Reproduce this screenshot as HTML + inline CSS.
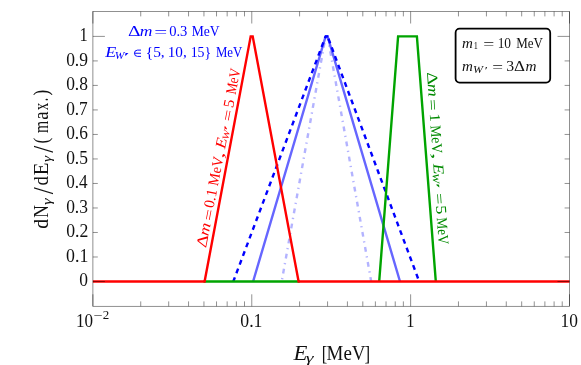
<!DOCTYPE html>
<html>
<head>
<meta charset="utf-8">
<title>plot</title>
<style>
html,body{margin:0;padding:0;background:#fff;}
body{width:581px;height:365px;overflow:hidden;}
svg{display:block;will-change:transform;}
text{font-family:"Liberation Serif",serif;font-kerning:none;}
.it{font-style:italic;}
</style>
</head>
<body>
<svg width="581" height="365" viewBox="0 0 581 365">
<rect width="581" height="365" fill="#fff"/>

<g fill="none" stroke-width="2.4" stroke-linejoin="miter" stroke-linecap="butt">
<path stroke="#b3b3ff" stroke-dasharray="4.8 4.6 1.3 4.6" stroke-dashoffset="7.2" d="M281.7,281.5 L325.6,36.4"/>
<path stroke="#b3b3ff" stroke-dasharray="4.8 4.6 1.3 4.6" stroke-dashoffset="0.3" d="M327.6,36.4 L371.2,281.5"/>
<path stroke="#b3b3ff" d="M324.9,36.4 H328.3"/>
<polyline stroke="#6666ff" points="253.1,281.5 325.6,36.4 327.6,36.4 400,281.5"/>
<path stroke="#0000ff" stroke-dasharray="4.9 4.4" stroke-dashoffset="0.5" d="M233.3,281.5 L325.6,36.4"/>
<path stroke="#0000ff" stroke-dasharray="4.9 4.4" stroke-dashoffset="6.84" d="M327.6,36.4 L419.2,281.5"/>
<path stroke="#0000ff" d="M324.9,36.4 H328.3"/>
<path stroke="#00a400" d="M203.5,281.5 H299.7 M379.2,281.5 L398.1,36.4 H416.9 L435.8,281.5"/>
<polyline stroke="#ff0000" points="92.9,281.5 204.6,281.5 250.7,36.4 252.7,36.4 298.6,281.5 569.5,281.5"/>
</g>

<g fill="none" stroke="#000" stroke-width="0.7" stroke-opacity="0.62">
<rect x="92.9" y="11.5" width="476.6" height="294.8"/>
<line x1="92.9" y1="306.3" x2="92.9" y2="294.3"/>
<line x1="92.9" y1="11.5" x2="92.9" y2="23.5"/>
<line x1="140.72" y1="306.3" x2="140.72" y2="301.4"/>
<line x1="140.72" y1="11.5" x2="140.72" y2="16.4"/>
<line x1="168.7" y1="306.3" x2="168.7" y2="301.4"/>
<line x1="168.7" y1="11.5" x2="168.7" y2="16.4"/>
<line x1="188.55" y1="306.3" x2="188.55" y2="301.4"/>
<line x1="188.55" y1="11.5" x2="188.55" y2="16.4"/>
<line x1="203.94" y1="306.3" x2="203.94" y2="301.4"/>
<line x1="203.94" y1="11.5" x2="203.94" y2="16.4"/>
<line x1="216.52" y1="306.3" x2="216.52" y2="301.4"/>
<line x1="216.52" y1="11.5" x2="216.52" y2="16.4"/>
<line x1="227.16" y1="306.3" x2="227.16" y2="301.4"/>
<line x1="227.16" y1="11.5" x2="227.16" y2="16.4"/>
<line x1="236.37" y1="306.3" x2="236.37" y2="301.4"/>
<line x1="236.37" y1="11.5" x2="236.37" y2="16.4"/>
<line x1="244.5" y1="306.3" x2="244.5" y2="301.4"/>
<line x1="244.5" y1="11.5" x2="244.5" y2="16.4"/>
<line x1="251.77" y1="306.3" x2="251.77" y2="294.3"/>
<line x1="251.77" y1="11.5" x2="251.77" y2="23.5"/>
<line x1="299.59" y1="306.3" x2="299.59" y2="301.4"/>
<line x1="299.59" y1="11.5" x2="299.59" y2="16.4"/>
<line x1="327.57" y1="306.3" x2="327.57" y2="301.4"/>
<line x1="327.57" y1="11.5" x2="327.57" y2="16.4"/>
<line x1="347.41" y1="306.3" x2="347.41" y2="301.4"/>
<line x1="347.41" y1="11.5" x2="347.41" y2="16.4"/>
<line x1="362.81" y1="306.3" x2="362.81" y2="301.4"/>
<line x1="362.81" y1="11.5" x2="362.81" y2="16.4"/>
<line x1="375.39" y1="306.3" x2="375.39" y2="301.4"/>
<line x1="375.39" y1="11.5" x2="375.39" y2="16.4"/>
<line x1="386.02" y1="306.3" x2="386.02" y2="301.4"/>
<line x1="386.02" y1="11.5" x2="386.02" y2="16.4"/>
<line x1="395.24" y1="306.3" x2="395.24" y2="301.4"/>
<line x1="395.24" y1="11.5" x2="395.24" y2="16.4"/>
<line x1="403.36" y1="306.3" x2="403.36" y2="301.4"/>
<line x1="403.36" y1="11.5" x2="403.36" y2="16.4"/>
<line x1="410.63" y1="306.3" x2="410.63" y2="294.3"/>
<line x1="410.63" y1="11.5" x2="410.63" y2="23.5"/>
<line x1="458.46" y1="306.3" x2="458.46" y2="301.4"/>
<line x1="458.46" y1="11.5" x2="458.46" y2="16.4"/>
<line x1="486.43" y1="306.3" x2="486.43" y2="301.4"/>
<line x1="486.43" y1="11.5" x2="486.43" y2="16.4"/>
<line x1="506.28" y1="306.3" x2="506.28" y2="301.4"/>
<line x1="506.28" y1="11.5" x2="506.28" y2="16.4"/>
<line x1="521.68" y1="306.3" x2="521.68" y2="301.4"/>
<line x1="521.68" y1="11.5" x2="521.68" y2="16.4"/>
<line x1="534.26" y1="306.3" x2="534.26" y2="301.4"/>
<line x1="534.26" y1="11.5" x2="534.26" y2="16.4"/>
<line x1="544.89" y1="306.3" x2="544.89" y2="301.4"/>
<line x1="544.89" y1="11.5" x2="544.89" y2="16.4"/>
<line x1="554.1" y1="306.3" x2="554.1" y2="301.4"/>
<line x1="554.1" y1="11.5" x2="554.1" y2="16.4"/>
<line x1="562.23" y1="306.3" x2="562.23" y2="301.4"/>
<line x1="562.23" y1="11.5" x2="562.23" y2="16.4"/>
<line x1="569.5" y1="306.3" x2="569.5" y2="294.3"/>
<line x1="569.5" y1="11.5" x2="569.5" y2="23.5"/>
<line x1="92.9" y1="281.5" x2="104.9" y2="281.5"/>
<line x1="569.5" y1="281.5" x2="557.5" y2="281.5"/>
<line x1="92.9" y1="256.99" x2="97.8" y2="256.99"/>
<line x1="569.5" y1="256.99" x2="564.6" y2="256.99"/>
<line x1="92.9" y1="232.48" x2="97.8" y2="232.48"/>
<line x1="569.5" y1="232.48" x2="564.6" y2="232.48"/>
<line x1="92.9" y1="207.97" x2="97.8" y2="207.97"/>
<line x1="569.5" y1="207.97" x2="564.6" y2="207.97"/>
<line x1="92.9" y1="183.46" x2="97.8" y2="183.46"/>
<line x1="569.5" y1="183.46" x2="564.6" y2="183.46"/>
<line x1="92.9" y1="158.95" x2="97.8" y2="158.95"/>
<line x1="569.5" y1="158.95" x2="564.6" y2="158.95"/>
<line x1="92.9" y1="134.44" x2="97.8" y2="134.44"/>
<line x1="569.5" y1="134.44" x2="564.6" y2="134.44"/>
<line x1="92.9" y1="109.93" x2="97.8" y2="109.93"/>
<line x1="569.5" y1="109.93" x2="564.6" y2="109.93"/>
<line x1="92.9" y1="85.42" x2="97.8" y2="85.42"/>
<line x1="569.5" y1="85.42" x2="564.6" y2="85.42"/>
<line x1="92.9" y1="60.91" x2="97.8" y2="60.91"/>
<line x1="569.5" y1="60.91" x2="564.6" y2="60.91"/>
<line x1="92.9" y1="36.4" x2="104.9" y2="36.4"/>
<line x1="569.5" y1="36.4" x2="557.5" y2="36.4"/>
</g>

<rect x="455.6" y="28.7" width="94.6" height="53.9" rx="4" ry="4" fill="#fff" stroke="#000" stroke-width="1.8"/>

<g transform="translate(0,286.4)" fill="#111">
<text x="79.34" y="0" font-size="18.4" textLength="8.73" lengthAdjust="spacingAndGlyphs">0</text>
</g>
<g transform="translate(0,261.89)" fill="#111">
<text x="66.12" y="0" font-size="18.4" textLength="22.25" lengthAdjust="spacingAndGlyphs">0.1</text>
</g>
<g transform="translate(0,237.38)" fill="#111">
<text x="66.13" y="0" font-size="18.4" textLength="22.15" lengthAdjust="spacingAndGlyphs">0.2</text>
</g>
<g transform="translate(0,212.87)" fill="#111">
<text x="66.13" y="0" font-size="18.4" textLength="21.85" lengthAdjust="spacingAndGlyphs">0.3</text>
</g>
<g transform="translate(0,188.36)" fill="#111">
<text x="66.15" y="0" font-size="18.4" textLength="21.42" lengthAdjust="spacingAndGlyphs">0.4</text>
</g>
<g transform="translate(0,163.85)" fill="#111">
<text x="66.13" y="0" font-size="18.4" textLength="21.85" lengthAdjust="spacingAndGlyphs">0.5</text>
</g>
<g transform="translate(0,139.34)" fill="#111">
<text x="66.14" y="0" font-size="18.4" textLength="21.68" lengthAdjust="spacingAndGlyphs">0.6</text>
</g>
<g transform="translate(0,114.83)" fill="#111">
<text x="66.14" y="0" font-size="18.4" textLength="21.66" lengthAdjust="spacingAndGlyphs">0.7</text>
</g>
<g transform="translate(0,90.32)" fill="#111">
<text x="66.13" y="0" font-size="18.4" textLength="21.83" lengthAdjust="spacingAndGlyphs">0.8</text>
</g>
<g transform="translate(0,65.81)" fill="#111">
<text x="66.13" y="0" font-size="18.4" textLength="21.88" lengthAdjust="spacingAndGlyphs">0.9</text>
</g>
<g transform="translate(0,41.3)" fill="#111">
<text x="79.55" y="0" font-size="18.4" textLength="8.24" lengthAdjust="spacingAndGlyphs">1</text>
</g>
<g transform="translate(0,326.5)" fill="#111">
<text x="240.33" y="0" font-size="18.4" textLength="22.14" lengthAdjust="spacingAndGlyphs">0.1</text>
<text x="406.25" y="0" font-size="18.4" textLength="8.24" lengthAdjust="spacingAndGlyphs">1</text>
<text x="560.47" y="0" font-size="18.4" textLength="17.39" lengthAdjust="spacingAndGlyphs">10</text>
<text x="76" y="0" font-size="18.4" textLength="17.05" lengthAdjust="spacingAndGlyphs">10</text>
<text x="93.4" y="-7.3" font-size="11.5" textLength="9.09" lengthAdjust="spacingAndGlyphs">−</text>
<text x="102.73" y="-7.7" font-size="11.5" textLength="6.49" lengthAdjust="spacingAndGlyphs">2</text>
</g>
<g transform="translate(0,36.0)" fill="#0000ff">
<text x="127.9" y="0" font-size="15" textLength="12.58" lengthAdjust="spacingAndGlyphs">Δ</text>
<text x="139.82" y="0" font-size="15" class="it" textLength="12.67" lengthAdjust="spacingAndGlyphs">m</text>
<text x="154.2" y="1.3" font-size="15" textLength="12.97" lengthAdjust="spacingAndGlyphs">=</text>
<text x="169.19" y="0" font-size="15" textLength="18.22" lengthAdjust="spacingAndGlyphs">0.3</text>
<text x="191.76" y="0" font-size="15" textLength="27.94" lengthAdjust="spacingAndGlyphs">MeV</text>
</g>
<g transform="translate(0,57.1)" fill="#0000ff">
<text x="105.36" y="0" font-size="15" class="it" textLength="10.98" lengthAdjust="spacingAndGlyphs">E</text>
<text x="114.78" y="1.4" font-size="9.3" class="it" textLength="9.69" lengthAdjust="spacingAndGlyphs">W</text>
<text x="123.61" y="2.6" font-size="11" textLength="6.37" lengthAdjust="spacingAndGlyphs">′</text>
<text x="145.75" y="0" font-size="15" textLength="18.97" lengthAdjust="spacingAndGlyphs">{5,</text>
<text x="167.71" y="0" font-size="15" textLength="18.99" lengthAdjust="spacingAndGlyphs">10,</text>
<text x="190.63" y="0" font-size="15" textLength="20.47" lengthAdjust="spacingAndGlyphs">15}</text>
<text x="215.88" y="0" font-size="15" textLength="26.31" lengthAdjust="spacingAndGlyphs">MeV</text>
</g>
<g transform="translate(206.2,247) rotate(-79.1)" fill="#ff0000">
<text x="-1.21" y="0" font-size="15" textLength="12.81" lengthAdjust="spacingAndGlyphs">Δ</text>
<text x="10.7" y="0" font-size="15" class="it" textLength="13.01" lengthAdjust="spacingAndGlyphs">m</text>
<text x="26.13" y="1.3" font-size="15" textLength="11.51" lengthAdjust="spacingAndGlyphs">=</text>
<text x="39.17" y="0" font-size="15" textLength="18.88" lengthAdjust="spacingAndGlyphs">0.1</text>
<text x="61.74" y="0" font-size="15" textLength="29.07" lengthAdjust="spacingAndGlyphs">MeV</text>
<text x="89.8" y="0" font-size="15" textLength="6.21" lengthAdjust="spacingAndGlyphs">,</text>
<text x="99.65" y="0" font-size="15" class="it" textLength="10.68" lengthAdjust="spacingAndGlyphs">E</text>
<text x="108.98" y="1.4" font-size="9.3" class="it" textLength="9.79" lengthAdjust="spacingAndGlyphs">W</text>
<text x="117.95" y="2.6" font-size="11" textLength="6.19" lengthAdjust="spacingAndGlyphs">′</text>
<text x="127.53" y="1.3" font-size="15" textLength="11.51" lengthAdjust="spacingAndGlyphs">=</text>
<text x="141.08" y="0" font-size="15" textLength="8.32" lengthAdjust="spacingAndGlyphs">5</text>
<text x="154.78" y="0" font-size="15" textLength="26.11" lengthAdjust="spacingAndGlyphs">MeV</text>
</g>
<g transform="translate(427.0,73.4) rotate(86.1)" fill="#008a00">
<text x="-1.21" y="0" font-size="15" textLength="12.81" lengthAdjust="spacingAndGlyphs">Δ</text>
<text x="10.7" y="0" font-size="15" class="it" textLength="13.01" lengthAdjust="spacingAndGlyphs">m</text>
<text x="26.13" y="1.3" font-size="15" textLength="11.51" lengthAdjust="spacingAndGlyphs">=</text>
<text x="40.38" y="0" font-size="15" textLength="8.38" lengthAdjust="spacingAndGlyphs">1</text>
<text x="52.15" y="0" font-size="15" textLength="28.25" lengthAdjust="spacingAndGlyphs">MeV</text>
<text x="79.75" y="0" font-size="15" textLength="6.55" lengthAdjust="spacingAndGlyphs">,</text>
<text x="90.95" y="0" font-size="15" class="it" textLength="10.68" lengthAdjust="spacingAndGlyphs">E</text>
<text x="100.36" y="1.4" font-size="9.3" class="it" textLength="9.98" lengthAdjust="spacingAndGlyphs">W</text>
<text x="109.67" y="2.6" font-size="11" textLength="6.56" lengthAdjust="spacingAndGlyphs">′</text>
<text x="120.35" y="1.3" font-size="15" textLength="11.27" lengthAdjust="spacingAndGlyphs">=</text>
<text x="132.73" y="0" font-size="15" textLength="8.81" lengthAdjust="spacingAndGlyphs">5</text>
<text x="144.77" y="0" font-size="15" textLength="27.03" lengthAdjust="spacingAndGlyphs">MeV</text>
</g>
<g transform="translate(0,47.6)" fill="#111">
<text x="462.11" y="0" font-size="15" class="it" textLength="10.88" lengthAdjust="spacingAndGlyphs">m</text>
<text x="473.83" y="1.4" font-size="9.3" textLength="4.12" lengthAdjust="spacingAndGlyphs">1</text>
<text x="483.28" y="1.3" font-size="15" textLength="11.03" lengthAdjust="spacingAndGlyphs">=</text>
<text x="497.67" y="0" font-size="15" textLength="13.39" lengthAdjust="spacingAndGlyphs">10</text>
<text x="516.28" y="0" font-size="15" textLength="26.72" lengthAdjust="spacingAndGlyphs">MeV</text>
</g>
<g transform="translate(0,71.1)" fill="#111">
<text x="462.11" y="0" font-size="15" class="it" textLength="10.88" lengthAdjust="spacingAndGlyphs">m</text>
<text x="473.06" y="1.4" font-size="9.3" class="it" textLength="9.98" lengthAdjust="spacingAndGlyphs">W</text>
<text x="484.65" y="2.6" font-size="11" textLength="3.1" lengthAdjust="spacingAndGlyphs">′</text>
<text x="492.2" y="1.3" font-size="15" textLength="10.79" lengthAdjust="spacingAndGlyphs">=</text>
<text x="506.2" y="0" font-size="15" textLength="7.87" lengthAdjust="spacingAndGlyphs">3</text>
<text x="514.1" y="0" font-size="15" textLength="10.99" lengthAdjust="spacingAndGlyphs">Δ</text>
<text x="525.4" y="0" font-size="15" class="it" textLength="10.99" lengthAdjust="spacingAndGlyphs">m</text>
</g>
<g transform="translate(0,359.8)" fill="#111">
<text x="293.42" y="0" font-size="20" class="it" textLength="13.9" lengthAdjust="spacingAndGlyphs">E</text>
<text x="305.89" y="2.5" font-size="12" class="it" textLength="7.82" lengthAdjust="spacingAndGlyphs">γ</text>
<text x="321.82" y="0.3" font-size="21.5" textLength="5.53" lengthAdjust="spacingAndGlyphs">[</text>
<text x="326.6" y="0" font-size="20" textLength="38.96" lengthAdjust="spacingAndGlyphs">MeV</text>
<text x="364.53" y="0.3" font-size="21.5" textLength="5.68" lengthAdjust="spacingAndGlyphs">]</text>
</g>
<g transform="translate(48.3,228.6) rotate(-90)" fill="#111">
<text x="-0.1" y="0" font-size="20" textLength="9.74" lengthAdjust="spacingAndGlyphs">d</text>
<text x="10.8" y="0" font-size="20" textLength="12.6" lengthAdjust="spacingAndGlyphs">N</text>
<text x="23.49" y="2.7" font-size="12" class="it" textLength="6.73" lengthAdjust="spacingAndGlyphs">γ</text>
<text x="34.4" y="4.5" font-size="29.5" textLength="7" lengthAdjust="spacingAndGlyphs">/</text>
<text x="43.02" y="0" font-size="20" textLength="9.41" lengthAdjust="spacingAndGlyphs">d</text>
<text x="53.4" y="0" font-size="20" textLength="12.74" lengthAdjust="spacingAndGlyphs">E</text>
<text x="66.62" y="2.7" font-size="12" class="it" textLength="6.14" lengthAdjust="spacingAndGlyphs">γ</text>
<text x="75.9" y="4.5" font-size="29.5" textLength="7" lengthAdjust="spacingAndGlyphs">/</text>
<text x="85.05" y="0.1" font-size="21.8" textLength="5.7" lengthAdjust="spacingAndGlyphs">(</text>
<text x="95.67" y="0" font-size="20" textLength="12.17" lengthAdjust="spacingAndGlyphs">m</text>
<text x="108.74" y="0" font-size="20" textLength="8.31" lengthAdjust="spacingAndGlyphs">a</text>
<text x="118.47" y="0" font-size="20" textLength="7.52" lengthAdjust="spacingAndGlyphs">x</text>
<text x="127.41" y="0" font-size="20" textLength="3.39" lengthAdjust="spacingAndGlyphs">.</text>
<text x="133.05" y="0.1" font-size="21.8" textLength="5.7" lengthAdjust="spacingAndGlyphs">)</text>
</g>
<path d="M141,50.1 H137.6 A3.15,3.15 0 0 0 137.6,56.4 H141 M134.5,53.25 H141" fill="none" stroke="#0000ff" stroke-width="0.95"/>
</svg>
</body>
</html>
